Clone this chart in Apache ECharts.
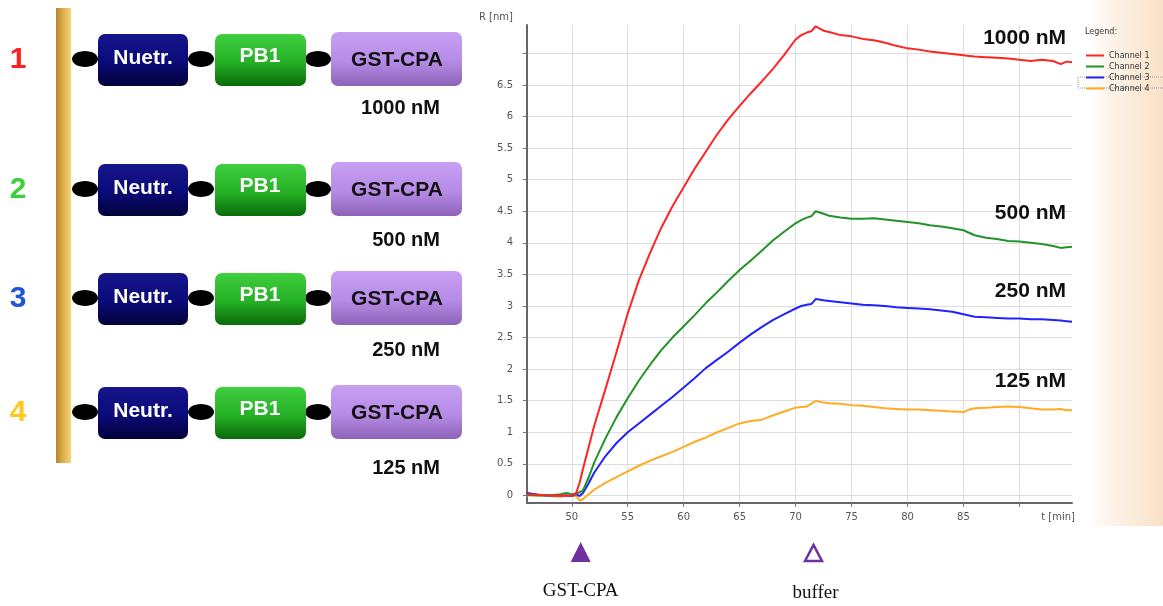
<!DOCTYPE html>
<html>
<head>
<meta charset="utf-8">
<script src="https://cdn.jsdelivr.net/npm/echarts@6/dist/echarts.min.js"></script>
<style>
  html, body { margin: 0; padding: 0; background: #ffffff; }
  #chart { width: 1163px; height: 606px; }
</style>
</head>
<body>
<div id="chart"></div>
<script>
// ---- data ----
const TIME = [46, 47, 48, 49, 49.5, 50, 50.4, 50.7, 51, 51.5, 52, 53, 54, 55, 56, 57, 58, 59, 60, 61, 62, 63, 64, 65, 66, 67, 68, 69, 70, 70.5, 71, 71.4, 71.8, 72.5, 73, 74, 75, 76, 77, 78, 79, 80, 81, 82, 83, 84, 85, 85.5, 86, 87, 88, 89, 90, 91, 92, 93, 93.7, 94.2, 94.7];
const CHANNEL_1 = [0.02, 0.01, 0.0, 0.0, 0.0, -0.01, 0.04, 0.2, 0.42, 0.76, 1.1, 1.68, 2.27, 2.88, 3.41, 3.84, 4.24, 4.58, 4.88, 5.18, 5.45, 5.72, 5.96, 6.17, 6.37, 6.56, 6.76, 6.98, 7.22, 7.29, 7.33, 7.35, 7.43, 7.36, 7.34, 7.29, 7.27, 7.23, 7.21, 7.17, 7.12, 7.08, 7.06, 7.03, 7.01, 6.99, 6.97, 6.96, 6.95, 6.94, 6.93, 6.92, 6.90, 6.88, 6.90, 6.88, 6.83, 6.87, 6.86];
const CHANNEL_2 = [0.01, 0.0, 0.0, 0.02, 0.04, 0.02, 0.03, 0.05, 0.08, 0.28, 0.52, 0.90, 1.24, 1.54, 1.82, 2.07, 2.30, 2.50, 2.68, 2.86, 3.05, 3.22, 3.40, 3.57, 3.72, 3.88, 4.04, 4.18, 4.31, 4.36, 4.40, 4.42, 4.50, 4.46, 4.43, 4.40, 4.38, 4.38, 4.39, 4.37, 4.35, 4.33, 4.31, 4.28, 4.26, 4.23, 4.20, 4.16, 4.12, 4.08, 4.06, 4.03, 4.02, 4.00, 3.98, 3.95, 3.92, 3.93, 3.94];
const CHANNEL_3 = [0.04, 0.01, 0.0, 0.0, 0.0, -0.01, 0.02, -0.01, 0.04, 0.19, 0.36, 0.62, 0.83, 1.00, 1.14, 1.28, 1.42, 1.56, 1.71, 1.86, 2.02, 2.15, 2.28, 2.42, 2.55, 2.67, 2.78, 2.87, 2.96, 3.00, 3.02, 3.03, 3.11, 3.09, 3.08, 3.06, 3.04, 3.02, 3.01, 3.00, 2.98, 2.97, 2.96, 2.95, 2.93, 2.91, 2.87, 2.85, 2.83, 2.82, 2.81, 2.80, 2.80, 2.79, 2.79, 2.78, 2.77, 2.76, 2.75];
const CHANNEL_4 = [0.0, 0.0, -0.01, -0.02, 0.0, -0.01, -0.01, -0.08, -0.06, 0.02, 0.09, 0.20, 0.29, 0.38, 0.47, 0.55, 0.62, 0.69, 0.77, 0.85, 0.92, 1.00, 1.07, 1.14, 1.18, 1.20, 1.27, 1.33, 1.39, 1.40, 1.41, 1.45, 1.50, 1.47, 1.46, 1.45, 1.43, 1.42, 1.40, 1.38, 1.37, 1.36, 1.36, 1.35, 1.34, 1.33, 1.32, 1.36, 1.38, 1.39, 1.40, 1.41, 1.40, 1.38, 1.36, 1.36, 1.37, 1.35, 1.35];
const SERIES_NAMES = ['Channel 1', 'Channel 2', 'Channel 3', 'Channel 4'];
const CONCENTRATIONS = ['1000 nM', '500 nM', '250 nM', '125 nM'];
const ROW_NUMBERS = ['1', '2', '3', '4'];
const FIRST_BOX_LABELS = ['Nuetr.', 'Neutr.', 'Neutr.', 'Neutr.'];
const INJECTION_TIMES = [50.8, 71.6];
const INJECTION_LABELS = ['GST-CPA', 'buffer'];

// ---- styling ----
const LINE_COLORS = ['#ff2424', '#22922a', '#2222ff', '#ffab24'];
const NUMBER_COLORS = ['#ff1f1f', '#3ccf3c', '#1f55d8', '#ffc81e'];
const VALUES = [CHANNEL_1, CHANNEL_2, CHANNEL_3, CHANNEL_4];

const chart = echarts.init(document.getElementById('chart'), null, { renderer: 'canvas' });

const axisLabelStyle = { color: '#555', fontFamily: 'DejaVu Sans', fontSize: 10 };

const series = SERIES_NAMES.map((name, k) => ({
  name: name,
  type: 'line',
  data: TIME.map((t, i) => [t, VALUES[k][i]]),
  showSymbol: false,
  symbol: 'none',
  smooth: false,
  lineStyle: { color: LINE_COLORS[k], width: 2 },
  itemStyle: { color: LINE_COLORS[k] },
  z: 5 - k,
  animation: false
}));

chart.setOption({
  animation: false,
  backgroundColor: '#ffffff',
  grid: { left: 527, right: 91, top: 25, bottom: 103, containLabel: false },
  xAxis: {
    type: 'value',
    min: 46,
    max: 94.7,
    splitNumber: 10,
    axisLine: { show: true, onZero: false, lineStyle: { color: '#666', width: 2 } },
    axisTick: { show: true, length: 4, lineStyle: { color: '#777' } },
    axisLabel: Object.assign({ margin: 9, showMinLabel: false, showMaxLabel: false,
      formatter: v => (Math.abs(v - 90) < 1e-6 ? '' : String(v)) }, axisLabelStyle),
    splitLine: { show: true, showMinLine: false, showMaxLine: false, lineStyle: { color: '#dedede', width: 1 } }
  },
  yAxis: {
    type: 'value',
    min: -0.12,
    max: 7.45,
    splitNumber: 15,
    name: 'R [nm]',
    nameLocation: 'end',
    nameGap: 3,
    nameTextStyle: { color: '#555', fontFamily: 'DejaVu Sans', fontSize: 10, align: 'right', padding: [0, 14, 0, 0] },
    axisLine: { show: true, onZero: false, lineStyle: { color: '#666', width: 2 } },
    axisTick: { show: true, length: 4, lineStyle: { color: '#777' } },
    axisLabel: Object.assign({ margin: 14, showMinLabel: false, showMaxLabel: false,
      formatter: v => (Math.abs(v - 7) < 1e-6 ? '' : String(v)) }, axisLabelStyle),
    splitLine: { show: true, showMinLine: false, showMaxLine: false, lineStyle: { color: '#dedede', width: 1 } }
  },
  legend: {
    data: SERIES_NAMES,
    orient: 'vertical',
    left: 1081,
    top: 45,
    itemWidth: 18,
    itemHeight: 2,
    itemGap: 0,
    icon: 'rect',
    textStyle: { color: '#333', fontFamily: 'DejaVu Sans', fontSize: 8, lineHeight: 11 },
    selectedMode: false
  },
  series: series
});

// ---- diagram & annotations (graphic layer) ----
const g = [];
// beige strip on the right
g.push({ type: 'rect', z: -100, silent: true,
  shape: { x: 1090, y: 0, width: 73, height: 526 },
  style: { fill: { type: 'linear', x: 0, y: 0, x2: 1, y2: 0,
    colorStops: [{ offset: 0, color: 'rgba(251,232,212,0)' }, { offset: 0.45, color: '#fcefe2' }, { offset: 1, color: '#f9e2c8' }] } } });
// legend title and focus box
g.push({ type: 'text', style: { text: 'Legend:', x: 1085, y: 32, fill: '#333', font: '8px "DejaVu Sans"', verticalAlign: 'middle' } });
g.push({ type: 'rect', shape: { x: 1078, y: 77, width: 90, height: 11 },
  style: { fill: 'none', stroke: '#999', lineWidth: 1, lineDash: [1, 1] } });
// time-axis title under the last grid line
g.push({ type: 'text', style: { text: 't [min]', x: 1075, y: 517, fill: '#555', font: '10px "DejaVu Sans"', align: 'right', verticalAlign: 'middle' } });

// gold support bar
g.push({ type: 'rect', shape: { x: 56, y: 8, width: 15, height: 455 },
  style: { fill: { type: 'linear', x: 0, y: 0, x2: 1, y2: 0,
    colorStops: [{ offset: 0, color: '#b8862a' }, { offset: 0.5, color: '#e0b050' }, { offset: 1, color: '#f8d47a' }] } } });

const rowTops = [34, 164, 273, 387];
const concY = [108, 240, 350, 468];
const boxH = 52;
const vGrad = (c1, c2, c3) => ({ type: 'linear', x: 0, y: 0, x2: 0, y2: 1,
  colorStops: [{ offset: 0, color: c1 }, { offset: 0.55, color: c2 }, { offset: 1, color: c3 }] });

rowTops.forEach((top, r) => {
  const cy = top + boxH / 2;
  // row number
  g.push({ type: 'text', style: { text: ROW_NUMBERS[r], x: 18, y: cy, fill: NUMBER_COLORS[r],
    font: 'bold 30px "Liberation Sans"', align: 'center', verticalAlign: 'middle' } });
  // linker ovals
  [85, 201, 318].forEach(cx => {
    g.push({ type: 'ellipse', shape: { cx: cx, cy: cy - 1, rx: 13, ry: 8 }, style: { fill: '#000' } });
  });
  // boxes
  g.push({ type: 'rect', shape: { x: 98, y: top, width: 90, height: boxH, r: 7 },
    style: { fill: vGrad('#16168c', '#0a0a78', '#02023a') } });
  g.push({ type: 'text', style: { text: FIRST_BOX_LABELS[r], x: 143, y: cy - 2, fill: '#ffffff',
    font: 'bold 21px "Liberation Sans"', align: 'center', verticalAlign: 'middle' } });
  g.push({ type: 'rect', shape: { x: 215, y: top, width: 91, height: boxH, r: 7 },
    style: { fill: vGrad('#3fcf3f', '#25b025', '#0a6a0a') } });
  g.push({ type: 'text', style: { text: 'PB1', x: 260, y: cy - 4, fill: '#ffffff',
    font: 'bold 21px "Liberation Sans"', align: 'center', verticalAlign: 'middle' } });
  g.push({ type: 'rect', shape: { x: 331, y: top - 2, width: 131, height: boxH + 2, r: 7 },
    style: { fill: vGrad('#c8a0f2', '#b58be6', '#8d63b8') } });
  g.push({ type: 'text', style: { text: 'GST-CPA', x: 397, y: cy, fill: '#111',
    font: 'bold 21px "Liberation Sans"', align: 'center', verticalAlign: 'middle' } });
  // concentration under the diagram
  g.push({ type: 'text', style: { text: CONCENTRATIONS[r], x: 440, y: concY[r], fill: '#111',
    font: 'bold 20px "Liberation Sans"', align: 'right', verticalAlign: 'middle' } });
});

// concentration labels at the right end of each curve
const curveLabelY = [38, 213, 291, 381];
CONCENTRATIONS.forEach((txt, k) => {
  g.push({ type: 'text', style: { text: txt, x: 1066, y: curveLabelY[k], fill: '#111',
    font: 'bold 21px "Liberation Sans"', align: 'right', verticalAlign: 'middle' } });
});

// injection markers under the time axis, placed via the axis scale
INJECTION_TIMES.forEach((t, k) => {
  const px = chart.convertToPixel({ xAxisIndex: 0 }, t);
  const pts = [[px - 10, 562], [px, 542], [px + 10, 562]];
  if (k === 0) {
    g.push({ type: 'polygon', shape: { points: pts }, style: { fill: '#7030a0' } });
  } else {
    g.push({ type: 'polygon', shape: { points: [[px - 8.5, 561], [px, 545], [px + 8.5, 561]] },
      style: { fill: 'none', stroke: '#7030a0', lineWidth: 2.5 } });
  }
  g.push({ type: 'text', style: { text: INJECTION_LABELS[k], x: px + (k === 0 ? 0 : 2), y: 591 + (k === 0 ? 0 : 2), fill: '#111',
    font: '19px "Liberation Serif"', align: 'center', verticalAlign: 'middle' } });
});

chart.setOption({ graphic: { elements: g } });
</script>
</body>
</html>
